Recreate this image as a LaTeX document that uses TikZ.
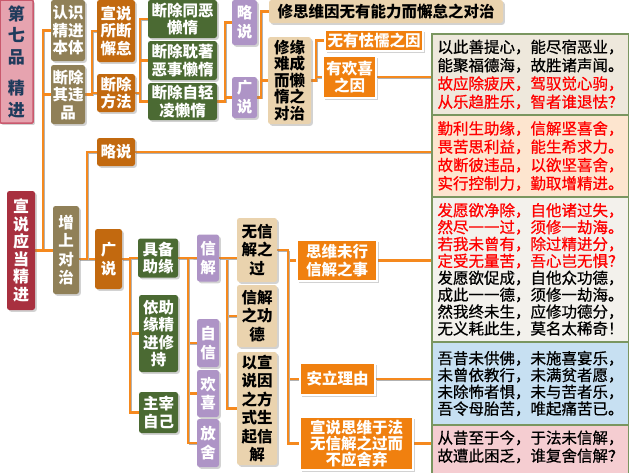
\documentclass[tikz,border=0pt]{standalone}
\usepackage{fontspec}
\newfontfamily\cjk{Noto Sans CJK SC}
\newfontfamily\cjkverse[FakeBold=0.7]{Noto Sans CJK SC}
\usetikzlibrary{positioning,shadows,backgrounds}
\definecolor{linkc}{HTML}{F5891E}
\definecolor{titlefill}{HTML}{E6A3AF}
\definecolor{titledraw}{HTML}{C9596D}
\definecolor{titletext}{HTML}{1F3B5C}
\definecolor{rootc}{HTML}{A8303F}
\definecolor{olivec}{HTML}{908058}
\definecolor{rustc}{HTML}{C2690F}
\definecolor{greenc}{HTML}{4B6A33}
\definecolor{lilac}{HTML}{AE94C6}
\definecolor{tanc}{HTML}{EAD3AE}
\definecolor{orangec}{HTML}{F0800F}
\definecolor{verseedge}{HTML}{7A9660}
\definecolor{versea}{HTML}{EEE8DC}
\definecolor{verseb}{HTML}{FDE5CF}
\definecolor{versec}{HTML}{F3F1EC}
\definecolor{versed}{HTML}{C7E0F2}
\definecolor{versee}{HTML}{F5CDD1}

\begin{document}
\begin{tikzpicture}[x=1pt,y=-1pt]
  \tikzset{box/.style = {shape=rectangle,rounded corners=2.5pt,inner sep=0pt,align=center,text=white,font=\cjk\bfseries\fontsize{15.5}{17.5}\selectfont,drop shadow={shadow xshift=1.8pt,shadow yshift=-1.8pt,opacity=0.35}}}
  \tikzset{wh/.style 2 args = {minimum width=#1pt,minimum height=#2pt}}
  \tikzset{olivebox/.style = {box,fill=olivec}}
  \tikzset{rustbox/.style = {box,fill=rustc}}
  \tikzset{greenbox/.style = {box,fill=greenc}}
  \tikzset{lilacbox/.style = {box,fill=lilac}}
  \tikzset{tanbox/.style = {box,fill=tanc,text=black}}
  \tikzset{firebox/.style = {box,rounded corners=0pt,fill=orangec,draw=white,line width=2.5pt}}
  \tikzset{verse/.style = {shape=rectangle,draw=verseedge,line width=1.2pt,inner sep=0pt,align=left,minimum width=197pt,font=\cjkverse\fontsize{15.5}{17.5}\selectfont}}
  \tikzset{link/.style = {draw=linkc,line width=2.5pt,preaction={draw=black!30,transform canvas={xshift=1pt,yshift=-1pt}}}}

  \useasboundingbox (0,0) rectangle (629,472);

  % left columns
  \node[box,fill=titlefill,draw=titledraw,line width=1.5pt,text=titletext,rounded corners=1pt,font=\cjk\bfseries\fontsize{17}{21.5}\selectfont,wh={33}{123}] (t7) at (16.5,61.5) {第\\七\\品\\[10pt]精\\进};
  \node[box,fill=rootc,font=\cjk\bfseries\fontsize{16}{17.5}\selectfont,wh={28}{119}] (xs) at (21,250.5) {宣\\说\\应\\当\\精\\进};
  \node[olivebox,wh={34}{61}] (rs) at (68,30.5) {认识\\精进\\本体};
  \node[olivebox,wh={34}{59}] (dc) at (68,94.5) {断除\\其违\\品};
  \node[olivebox,font=\cjk\bfseries\fontsize{15.5}{18.5}\selectfont,wh={26}{88}] (zs) at (66,250) {增\\上\\对\\治};
  \node[rustbox,wh={38}{62}] (xssd) at (116,31) {宣说\\所断\\懈怠};
  \node[rustbox,wh={38}{38}] (dcff) at (116,93) {断除\\方法};
  \node[rustbox,wh={38}{28}] (ls2) at (116,152) {略说};
  \node[rustbox,font=\cjk\bfseries\fontsize{15.5}{19}\selectfont,wh={27}{60}] (gs2) at (108.5,259) {广\\说};

  % upper branch
  \node[greenbox,wh={69}{38}] (g1) at (182.5,19) {断除同恶\\懒惰};
  \node[greenbox,wh={69}{39}] (g2) at (182.5,60.5) {断除耽著\\恶事懒惰};
  \node[greenbox,wh={69}{37}] (g3) at (182.5,101.5) {断除自轻\\凌懒惰};
  \node[lilacbox,font=\cjk\bfseries\fontsize{15.5}{19}\selectfont,wh={25}{45}] (ls1) at (244.5,22.5) {略\\说};
  \node[lilacbox,font=\cjk\bfseries\fontsize{15.5}{19}\selectfont,wh={25}{41}] (gs1) at (244.5,97.5) {广\\说};
  \node[tanbox,wh={234}{23}] (xsw) at (386,11.5) {修思维因无有能力而懈怠之对治};
  \node[tanbox,font=\cjk\bfseries\fontsize{15.5}{16.5}\selectfont,wh={43}{87}] (xyn) at (289.5,80.5) {修缘\\难成\\而懒\\惰之\\对治};
  \node[firebox,wh={98}{21}] (wy) at (374,40.5) {无有怯懦之因};
  \node[firebox,wh={53}{42}] (yh) at (349.5,77) {有欢喜\\之因};

  % lower branch
  \node[greenbox,wh={40}{39}] (jb) at (158,258) {具备\\助缘};
  \node[greenbox,wh={39}{77}] (yz) at (158.5,333.5) {依助\\缘精\\进修\\持};
  \node[greenbox,wh={39}{41}] (zz) at (158.5,412.5) {主宰\\自己};
  \node[lilacbox,font=\cjk\bfseries\fontsize{15.5}{18.5}\selectfont,wh={22}{47}] (xj) at (208,258) {信\\解};
  \node[lilacbox,font=\cjk\bfseries\fontsize{15.5}{18.5}\selectfont,wh={22}{48}] (zx) at (208,343) {自\\信};
  \node[lilacbox,font=\cjk\bfseries\fontsize{15.5}{18.5}\selectfont,wh={22}{47}] (hx) at (208,393.5) {欢\\喜};
  \node[lilacbox,font=\cjk\bfseries\fontsize{15.5}{18.5}\selectfont,wh={22}{48}] (fs) at (208,443) {放\\舍};
  \node[tanbox,font=\cjk\bfseries\fontsize{15.5}{18.3}\selectfont,wh={40}{64}] (wxj) at (257,250) {无信\\解之\\过};
  \node[tanbox,font=\cjk\bfseries\fontsize{15.5}{18.3}\selectfont,wh={40}{62}] (xjg) at (257,316) {信解\\之功\\德};
  \node[tanbox,font=\cjk\bfseries\fontsize{15.5}{18.5}\selectfont,wh={40}{113}] (yxs) at (257,408.5) {以宣\\说因\\之方\\式生\\起信\\解};
  \node[firebox,wh={80}{41}] (sw) at (337,260.5) {思维未行\\信解之事};
  \node[firebox,wh={75}{32}] (al) at (337.5,379) {安立理由};
  \node[firebox,font=\cjk\bfseries\fontsize{15.5}{16}\selectfont,wh={113}{53}] (xsf) at (356.5,443.5) {宣说思维于法\\无信解之过而\\不应舍弃};

  % verses
  \node[verse,fill=versea,minimum height=81pt,font=\cjkverse\fontsize{15.5}{18.3}\selectfont] (v1) at (530.5,74.5) {以此善提心，能尽宿恶业，\\能聚福德海，故胜诸声闻。\\\textcolor{red}{故应除疲厌，驾驭觉心驹，}\\\textcolor{red}{从乐趋胜乐，智者谁退怯？}};
  \node[verse,fill=verseb,minimum height=82pt,text=red,font=\cjkverse\fontsize{15.5}{18.3}\selectfont] (v2) at (530.5,156) {勤利生助缘，信解坚喜舍，\\畏苦思利益，能生希求力。\\故断彼违品，以欲坚喜舍，\\实行控制力，勤取增精进。};
  \node[verse,fill=versec,minimum height=145pt,font=\cjkverse\fontsize{15.5}{16.9}\selectfont] (v3) at (530.5,269.5) {\textcolor{red}{发愿欲净除，自他诸过失，}\\\textcolor{red}{然尽一一过，须修一劫海。}\\\textcolor{red}{若我未曾有，除过精进分，}\\\textcolor{red}{定受无量苦，吾心岂无惧？}\\发愿欲促成，自他众功德，\\成此一一德，须修一劫海。\\然我终未生，应修功德分，\\无义耗此生，莫名太稀奇！};
  \node[verse,fill=versed,minimum height=83pt,font=\cjkverse\fontsize{15.5}{16.8}\selectfont] (v4) at (530.5,383.5) {吾昔未供佛，未施喜宴乐，\\未曾依教行，未满贫者愿，\\未除怖者惧，未与苦者乐，\\吾令母胎苦，唯起痛苦已。};
  \node[verse,fill=versee,minimum height=62pt,font=\cjkverse\fontsize{15.5}{18}\selectfont] (v5) at (530.5,456) {从昔至于今，于法未信解，\\故遭此困乏，谁复舍信解？\\[2pt]};

  \begin{scope}[on background layer]
    \fill[white] (0,0) rectangle (629,472);
    \foreach \from/\to/\d in {xs/rs/8, xs/dc/8, dc/xssd/7, dc/dcff/7, dcff/g1/5, dcff/g2/5, dcff/g3/5, g3/ls1/8, g3/gs1/8, gs1/xsw/4, gs1/xyn/4, xyn/wy/5, xyn/yh/5, gs2/jb/8, gs2/yz/8, gs2/zz/8, jb/xj/10, jb/zx/10, jb/hx/10, jb/fs/10, xj/xjg/8, xj/yxs/8, wxj/sw/11, wxj/al/11, wxj/xsf/11}
    \draw[link] (\from.east) -- ++(\d,0) |- (\to.west);
    \foreach \from/\to in {xs/zs, xj/wxj, yh/v1, ls2/v2, sw/v3, al/v4}
    \draw[link] (\from.east) -- (\from.east -| \to.west);
    \draw[link] (xsf.east) -- (xsf.east -| v5.west);
    \draw[link] (zs.east |- gs2.west) -- (gs2.west);
    \draw[link] (zs.east |- gs2.west) -- ++(8,0) |- (ls2.west);
  \end{scope}
\end{tikzpicture}
\end{document}
